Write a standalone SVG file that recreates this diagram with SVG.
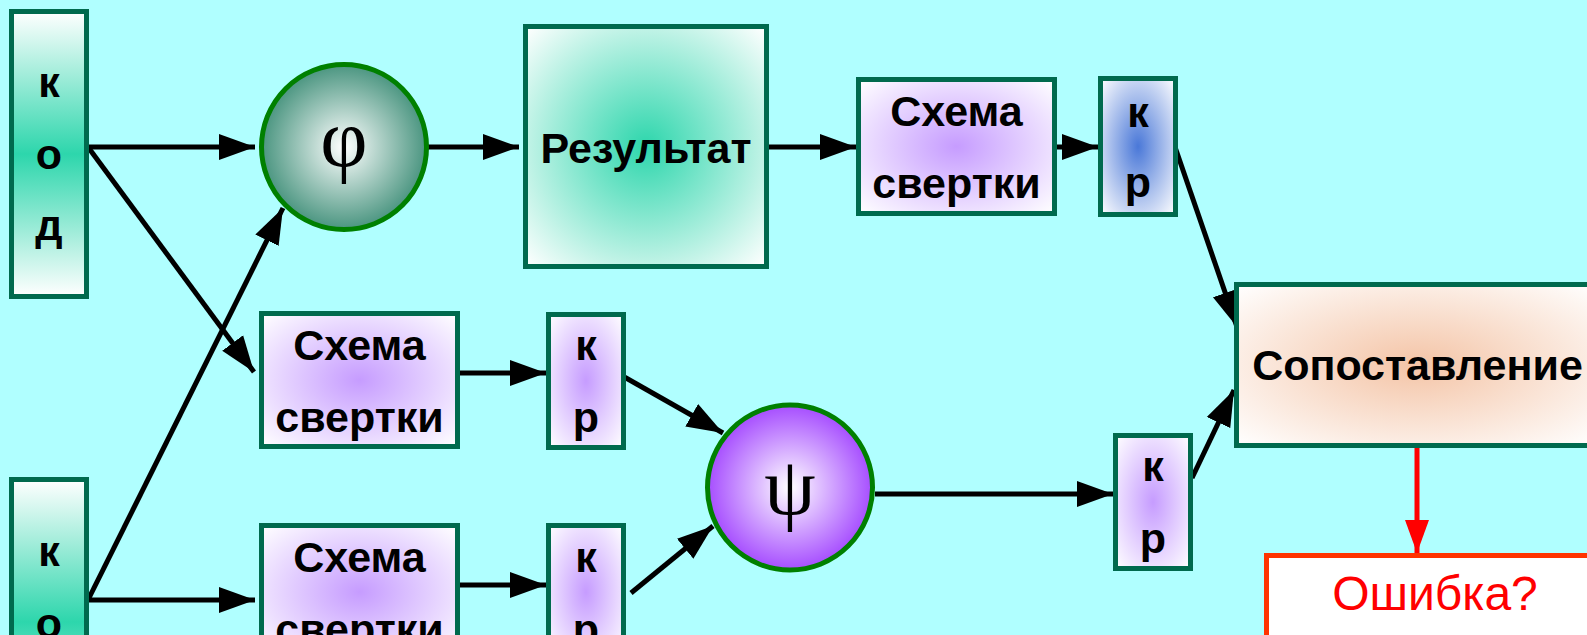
<svg xmlns="http://www.w3.org/2000/svg" width="1587" height="635" viewBox="0 0 1587 635">
<defs>
<style>
.box{stroke:#006a4e;stroke-width:5}
.lbl{font-family:"Liberation Sans",Arial,sans-serif;font-weight:bold;font-size:43px;fill:#000;text-anchor:middle}
.greek{font-family:"Liberation Serif","Times New Roman",serif;font-size:82px;fill:#000;text-anchor:middle}
.con{stroke:#000;stroke-width:5;fill:none;marker-end:url(#ah)}
</style>
<marker id="ah" markerUnits="userSpaceOnUse" markerWidth="38" markerHeight="28" refX="36" refY="14" orient="auto"><path d="M0,1 L36,14 L0,27 z" fill="#000"/></marker>
<marker id="ahr" markerUnits="userSpaceOnUse" markerWidth="34" markerHeight="26" refX="33" refY="13" orient="auto"><path d="M0,1 L33,13 L0,25 z" fill="#ff0000"/></marker>
<linearGradient id="gKod" x1="0" y1="0" x2="0" y2="1">
<stop offset="0" stop-color="#ffffff"/><stop offset="0.5" stop-color="#2dd6ac"/><stop offset="1" stop-color="#ffffff"/>
</linearGradient>
<radialGradient id="gRes" cx="0.5" cy="0.5" r="0.7">
<stop offset="0" stop-color="#2dd6ac"/><stop offset="1" stop-color="#ffffff"/>
</radialGradient>
<radialGradient id="gPur" cx="0.5" cy="0.5" r="0.7">
<stop offset="0" stop-color="#c69cff"/><stop offset="1" stop-color="#ffffff"/>
</radialGradient>
<radialGradient id="gBlue" cx="0.5" cy="0.5" r="0.7">
<stop offset="0" stop-color="#4a78d8"/><stop offset="1" stop-color="#ffffff"/>
</radialGradient>
<radialGradient id="gPeach" cx="0.5" cy="0.5" r="0.7">
<stop offset="0" stop-color="#f4c4a6"/><stop offset="1" stop-color="#ffffff"/>
</radialGradient>
<radialGradient id="gPhi" cx="0.5" cy="0.5" r="0.5">
<stop offset="0" stop-color="#ffffff"/><stop offset="1" stop-color="#4a9580"/>
</radialGradient>
<radialGradient id="gPsi" cx="0.5" cy="0.5" r="0.5">
<stop offset="0" stop-color="#ffffff"/><stop offset="1" stop-color="#a64dff"/>
</radialGradient>
</defs>
<rect x="0" y="0" width="1587" height="635" fill="#b0ffff"/>

<g id="connectors">
<line class="con" x1="88" y1="147" x2="255" y2="147"/>
<line class="con" x1="88" y1="147" x2="254" y2="372"/>
<line class="con" x1="88" y1="600" x2="255" y2="600"/>
<line class="con" x1="88" y1="600" x2="283" y2="208"/>
<line class="con" x1="428" y1="147" x2="519" y2="147"/>
<line class="con" x1="769" y1="147" x2="856" y2="147"/>
<line class="con" x1="1057" y1="147" x2="1098" y2="147"/>
<line class="con" x1="1175" y1="147" x2="1237" y2="327"/>
<line class="con" x1="460" y1="373" x2="546" y2="373"/>
<line class="con" x1="460" y1="585" x2="546" y2="585"/>
<line class="con" x1="619" y1="374" x2="723" y2="433"/>
<line class="con" x1="631" y1="593" x2="713" y2="526"/>
<line class="con" x1="875" y1="494" x2="1113" y2="494"/>
<line class="con" x1="1192" y1="478" x2="1234" y2="390"/>
<line x1="1417" y1="448" x2="1417" y2="553" stroke="#ff0000" stroke-width="5" marker-end="url(#ahr)"/>
</g>

<g id="kod1">
<rect class="box" x="11.5" y="11.5" width="75" height="285" fill="url(#gKod)"/>
<text class="lbl" x="49" y="97">к</text>
<text class="lbl" x="49" y="169">о</text>
<text class="lbl" x="49" y="240">д</text>
</g>
<g id="kod2">
<rect class="box" x="11.5" y="479.5" width="75" height="285" fill="url(#gKod)"/>
<text class="lbl" x="49" y="566">к</text>
<text class="lbl" x="49" y="638">о</text>
</g>
<g id="phi">
<circle cx="344" cy="147" r="82.5" fill="url(#gPhi)" stroke="#008000" stroke-width="5"/>
<text class="greek" x="344" y="166">φ</text>
</g>
<g id="result">
<rect class="box" x="525.5" y="26.5" width="241" height="240" fill="url(#gRes)"/>
<text class="lbl" x="646" y="163">Результат</text>
</g>
<g id="scheme1">
<rect class="box" x="858.5" y="79.5" width="196" height="134" fill="url(#gPur)"/>
<text class="lbl" x="956.5" y="126">Схема</text>
<text class="lbl" x="956.5" y="198">свертки</text>
</g>
<g id="kr1">
<rect class="box" x="1100.5" y="78.5" width="75" height="136" fill="url(#gBlue)"/>
<text class="lbl" x="1138" y="127">к</text>
<text class="lbl" x="1138" y="197">р</text>
</g>
<g id="scheme2">
<rect class="box" x="261.5" y="313.5" width="196" height="133" fill="url(#gPur)"/>
<text class="lbl" x="359.5" y="360">Схема</text>
<text class="lbl" x="359.5" y="432">свертки</text>
</g>
<g id="kr2">
<rect class="box" x="548.5" y="314.5" width="75" height="133" fill="url(#gPur)"/>
<text class="lbl" x="586" y="360">к</text>
<text class="lbl" x="586" y="432">р</text>
</g>
<g id="scheme3">
<rect class="box" x="261.5" y="525.5" width="196" height="133" fill="url(#gPur)"/>
<text class="lbl" x="359.5" y="572">Схема</text>
<text class="lbl" x="359.5" y="644">свертки</text>
</g>
<g id="kr3">
<rect class="box" x="548.5" y="525.5" width="75" height="133" fill="url(#gPur)"/>
<text class="lbl" x="586" y="572">к</text>
<text class="lbl" x="586" y="644">р</text>
</g>
<g id="psi">
<circle cx="790" cy="487.5" r="82.5" fill="url(#gPsi)" stroke="#008000" stroke-width="5"/>
<text class="greek" x="790" y="514">ψ</text>
</g>
<g id="kr4">
<rect class="box" x="1115.5" y="435.5" width="75" height="133" fill="url(#gPur)"/>
<text class="lbl" x="1153" y="481">к</text>
<text class="lbl" x="1153" y="553">р</text>
</g>
<g id="compare">
<rect class="box" x="1236.5" y="284.5" width="361" height="161" fill="url(#gPeach)"/>
<text class="lbl" x="1417.5" y="380">Сопоставление</text>
</g>
<g id="error">
<rect x="1266.5" y="555.5" width="340" height="150" fill="#ffffff" stroke="#ff3300" stroke-width="5"/>
<text x="1435" y="610" font-family="'Liberation Sans',Arial,sans-serif" font-size="48" fill="#ff0000" text-anchor="middle">Ошибка?</text>
</g>
</svg>
